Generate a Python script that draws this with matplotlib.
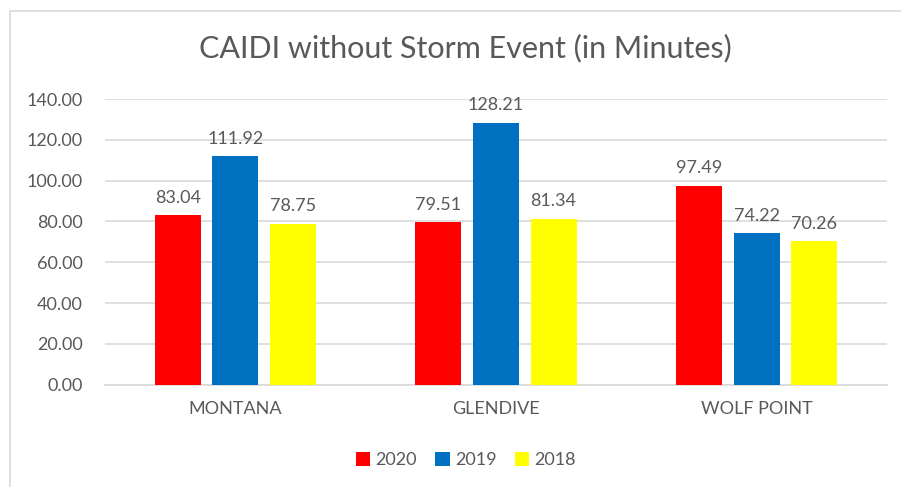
import numpy as np
import matplotlib.pyplot as plt
from matplotlib.patches import Rectangle

categories = ["MONTANA", "GLENDIVE", "WOLF POINT"]
years = ["2020", "2019", "2018"]
vals_2020 = [83.04, 79.51, 97.49]
vals_2019 = [111.92, 128.21, 74.22]
vals_2018 = [78.75, 81.34, 70.26]
yticks = [0, 20, 40, 60, 80, 100, 120, 140]

colors = ["#FF0000", "#0070C0", "#FFFF00"]
text_col = "#595959"
grid_col = "#D9D9D9"

plt.rcParams['font.family'] = ['Lato', 'DejaVu Sans']

fig = plt.figure(figsize=(9.01, 4.87), dpi=100)
ax = fig.add_axes([105/901, 1 - 384.7/487, 782/901, (384.7 - 99)/487])

# chart frame (only top and left visible in the source crop)
fig.patches.append(Rectangle((10/901, -0.1), 1.2, (487 - 11)/487 + 0.1,
                             transform=fig.transFigure, fill=False,
                             edgecolor=grid_col, linewidth=1.2))

x = np.arange(len(categories))
step = 0.221
width = 0.176
series = [vals_2020, vals_2019, vals_2018]
for i, (vals, lab, c) in enumerate(zip(series, years, colors)):
    bars = ax.bar(x + (i - 1) * step, vals, width, color=c, label=lab, zorder=3)
    for b, v in zip(bars, vals):
        ax.annotate(f"{v:.2f}", (b.get_x() + b.get_width() / 2, v),
                    xytext=(0, 7), textcoords="offset points",
                    ha="center", va="bottom", fontsize=13, color=text_col)

ax.set_xlim(-0.5, 2.5)
ax.set_ylim(0, 140)
ax.set_yticks(yticks)
ax.set_yticklabels([f"{t:.2f}" for t in yticks])
ax.set_xticks(x)
ax.set_xticklabels(categories)
ax.tick_params(axis="both", length=0, labelsize=13, labelcolor=text_col)
ax.tick_params(axis="y", pad=16)
ax.tick_params(axis="x", pad=12)
ax.grid(axis="y", color=grid_col, linewidth=1.2, zorder=0)
for s in ["top", "right", "left"]:
    ax.spines[s].set_visible(False)
ax.spines["bottom"].set_color(grid_col)
ax.spines["bottom"].set_linewidth(1.2)

fig.text(465/901, 1 - 48/487, "CAIDI without Storm Event (in Minutes)",
         ha="center", va="center", fontsize=22, color=text_col)

fig.legend(loc="center", bbox_to_anchor=(466/901, 1 - 460/487), ncol=3,
           frameon=False, fontsize=13, labelcolor=text_col,
           handlelength=0.8, handleheight=0.8, handletextpad=0.3,
           columnspacing=1.0)

fig.savefig("out.png", dpi=100)
